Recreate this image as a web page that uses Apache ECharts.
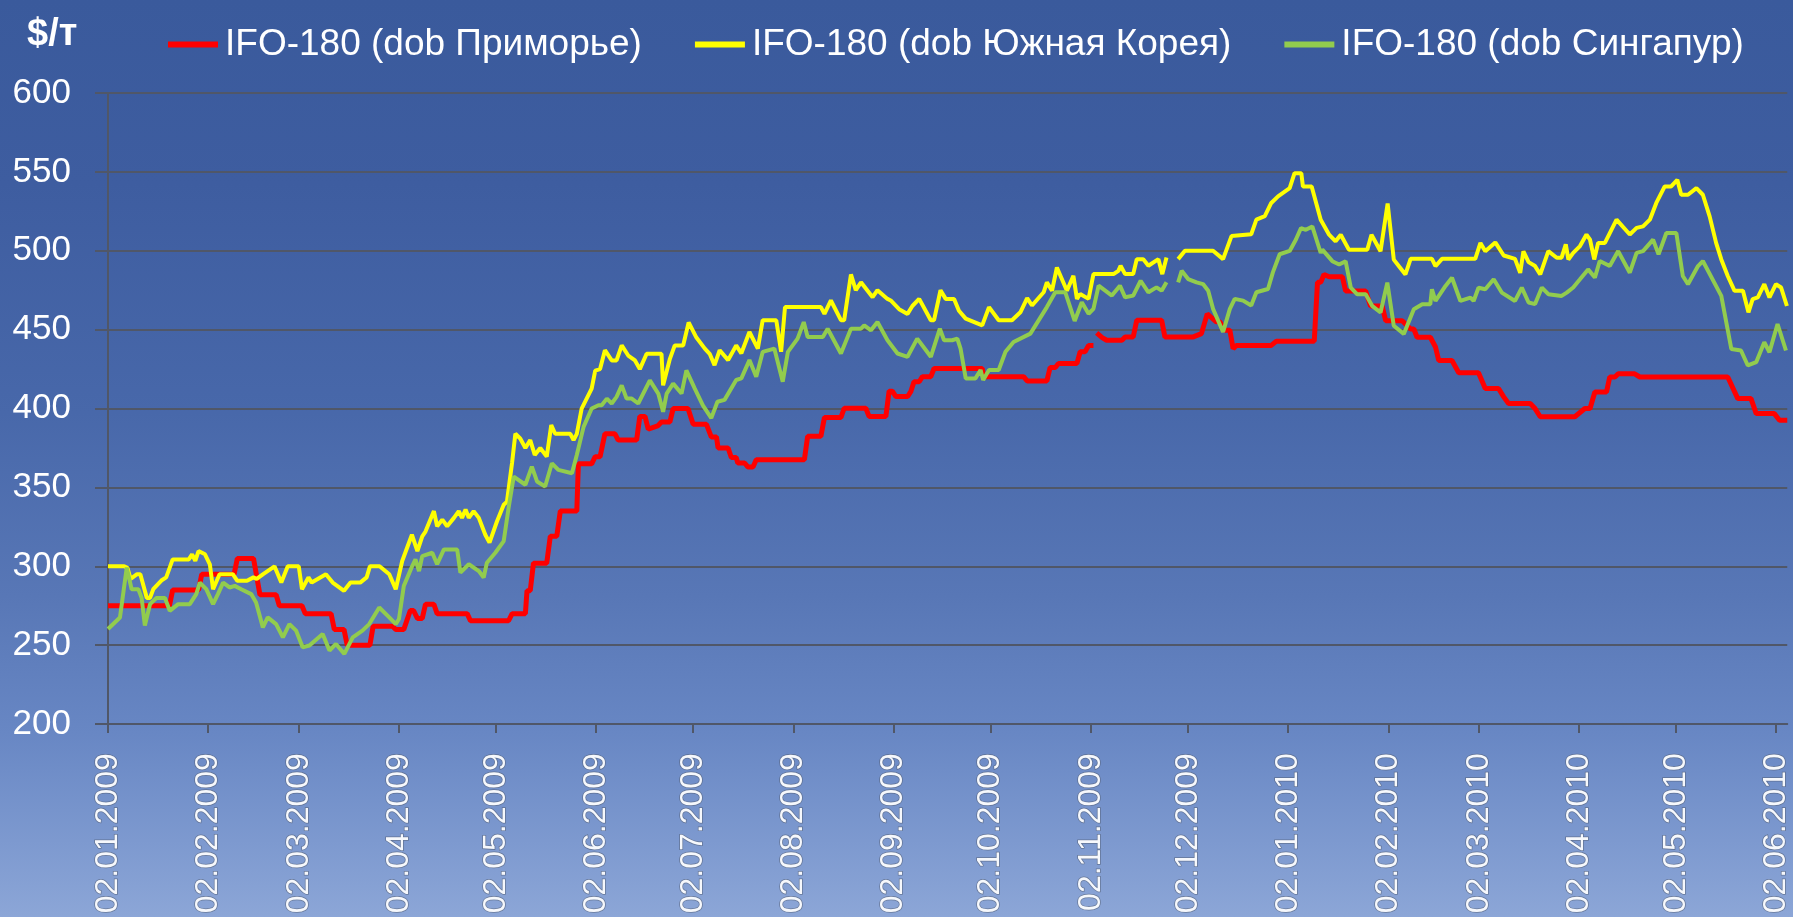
<!DOCTYPE html>
<html>
<head>
<meta charset="utf-8">
<script src="https://cdn.jsdelivr.net/npm/echarts@6/dist/echarts.min.js"></script>
<style>
html,body{margin:0;padding:0;}
#chart{width:1793px;height:917px;background:linear-gradient(to bottom,#3a5a9c 0%,#3e5da0 20%,#4868aa 45%,#5877b6 65%,#6887c4 80%,#8ca6d7 100%);}
</style>
</head>
<body>
<div id="chart"></div>
<script>
// x values are days counted from 02.01.2009
const monthDays = [0,31,59,90,120,151,181,212,243,273,304,334,365,396,424,455,485,516];
const monthLabels = ['02.01.2009','02.02.2009','02.03.2009','02.04.2009','02.05.2009','02.06.2009','02.07.2009','02.08.2009','02.09.2009','02.10.2009','02.11.2009','02.12.2009','02.01.2010','02.02.2010','02.03.2010','02.04.2010','02.05.2010','02.06.2010'];
const seriesNames = ['IFO-180 (dob Приморье)','IFO-180 (dob Южная Корея)','IFO-180 (dob Сингапур)'];

const primorye = [[0,275],[19,275],[20,285],[28,285],[29,295],[39,295],[40,305],[45,305],[47,282],[52,282],[53,275],[60,275],[61,270],[69,270],[70,260],[73,260],[74,250],[81,250],[82,262],[88,262],[89,260],[91.5,260],[93.5,272],[94.5,272],[95.7,267],[97.2,267],[98.2,276],[100.8,276],[101.8,270],[111.1,270],[112.1,265.5],[123.9,265.5],[125,270],[129.1,270],[129.6,284.5],[130.6,284.5],[131.6,302],[135.7,302],[136.8,319],[138.8,319],[139.9,335],[145,335],[145.5,365],[149.6,365],[150.7,369.5],[152.2,369.5],[153.7,384],[156.8,384],[157.8,380],[163.5,380],[164.5,395],[166.1,395],[167.1,387],[170,389],[171.2,391.5],[173.8,391.5],[174.8,400],[179.4,400],[181,390],[185.1,390],[186.6,382],[188.2,382],[188.7,375],[191.8,375],[192.8,369],[194.3,369],[194.8,365.5],[196.9,365.5],[197.9,363],[199.5,363],[200.5,367.6],[215.4,367.6],[216.4,382.4],[220.5,382.4],[221.6,394.3],[226.7,394.3],[227.7,400.2],[234.4,400.2],[235.4,395],[240.6,395],[241.6,411],[242.6,411],[243.7,407.6],[247.3,407.6],[248.3,410.7],[249.3,417],[250.9,417],[251.9,420.2],[254.5,420.2],[255.5,425.4],[270.4,425.4],[270.9,420.2],[283.2,420.2],[284.3,417.5],[290.4,417.5],[291.4,426],[293,426],[294,428.6],[299.7,428.6],[300.7,436],[302.2,436],[303.3,440],[304.8,440],[305.3,null],[305.8,448],[307.5,445],[308.9,443.3],[313.6,443.3],[314.6,445.4],[317.1,445.4],[318.2,456],[325.9,456],[326.9,445.4],[335.7,445.4],[338.2,447.5],[340,460],[342.8,455],[343.9,455],[345.4,449.6],[347,449.6],[348,438],[349,440],[359.8,440],[361.4,442.7],[373.1,442.7],[374.1,480],[375.1,480],[376.1,485],[377.7,483.5],[381.8,483.5],[382.8,474.5],[389,474.5],[390.5,465],[394.1,465],[395.2,455.7],[400.3,455.7],[402.9,450.4],[403.9,450.4],[404.9,445.2],[409,445.2],[410.6,439],[411.6,430.5],[415.7,430.5],[417.8,422.7],[423.9,422.7],[426,412.7],[430.1,412.7],[431.7,407.4],[433.2,403.2],[439.9,403.2],[441.4,400],[443,394.8],[453.7,394.8],[456.8,400],[458.4,400],[459.9,410.5],[463.5,410.5],[464.5,420],[466.1,420],[467.1,422],[472.2,422],[473.8,420],[501,420],[504.1,406.3],[508.2,406.3],[509.8,396.8],[515.4,396.8],[517,392.6],[519.4,392.6]];

const korea = [[0,300],[5,300],[6,299],[7,292],[9,295],[10,295],[12,280],[13,280],[14,285.5],[16.5,291],[18,293],[20,304.4],[25,304.4],[26,307.6],[27,303.4],[28,309.7],[30,307.6],[31.5,301.3],[32.5,285.5],[34.5,295],[38.6,295],[40,290.8],[43,290.8],[45,293],[46,292],[48,295],[51.5,300],[53.6,289.7],[55.6,300],[59,300],[60,285.5],[62,293],[63,289.7],[67.4,295],[69.5,289.7],[73,284.5],[75,289.7],[78,289.7],[80,293],[81,300],[84,300],[87,295],[89,285.5],[91,303.4],[94,320],[95.7,309.7],[97.2,319],[98.2,322],[100.8,335],[101.8,325.4],[103.4,329.6],[104.9,325.4],[107,330.7],[108.5,335],[109.5,330.7],[110.6,336],[111.6,330.7],[113.1,335],[114.7,330.7],[116.7,320],[118,315],[120.3,328.4],[122.4,339],[123.4,341],[125,366],[126,384],[127.5,381],[129.1,375],[130.6,380],[132,370.6],[133.7,375],[135.7,369.5],[137.1,389.5],[138.3,384],[143,384],[144,380],[145,384],[146.5,400],[149.6,412.6],[150.7,424],[152.2,425],[153.7,437],[155.8,430.5],[157.3,430.5],[158.9,440],[160.9,433.6],[163,430.5],[164.5,425],[166.6,434.7],[171.2,434.7],[171.7,414.7],[173.8,431.5],[175.3,440],[177.9,440],[179.6,454.6],[182,445],[184.6,438],[186.1,434.7],[187.6,427.5],[189.2,437],[191.8,430.7],[194.3,440],[195.9,435],[198.4,448.5],[201,438],[202.5,456],[206.7,456],[208.2,436],[209.4,464.3],[220.5,464.3],[221.6,460],[223.6,468.5],[226.7,456],[227.7,456],[229.8,485],[231.3,475],[232.9,480],[236.5,470.6],[238,475],[241.1,469.5],[242.1,468.5],[244.7,463],[247.3,460],[248.8,465],[250.9,469.5],[254.5,456],[255.5,456],[257.5,475],[259.1,469.5],[261.7,469.5],[263.2,462],[265.3,457],[270.4,452.7],[272.5,464.3],[275.5,456],[279.6,456],[282.2,461],[284.3,470],[285.8,465.3],[289.4,473.7],[290.4,480],[292,474.7],[293.5,489.4],[296.6,474.7],[298.6,484.2],[299.7,469.5],[300.7,472.6],[303.3,469.5],[304.8,485.2],[311,485.2],[312.5,487.3],[313.2,490.5],[314.6,485.2],[317.1,485.2],[318.2,494.7],[320.2,494.7],[321.8,490.5],[324.9,494.7],[326.1,485.2],[327.4,495.7],[329,null],[331,494.7],[333.1,500],[341.8,500],[344.9,494.7],[347.5,509.3],[353.6,510.4],[355.2,519.8],[357.8,522],[359.8,530.3],[361.9,534.5],[365.5,539.7],[367,549.2],[369.1,549.2],[369.6,540.8],[372.3,540.7],[375.1,519.6],[377.7,510.2],[379.7,506],[381.3,510.2],[383.8,500.7],[389.5,500.7],[390.8,510.2],[393.6,499.7],[395.8,530],[397.7,494.4],[399.3,490.2],[401.3,485],[402.9,494.9],[409.5,494.9],[410.6,490.2],[412.6,494.9],[422.9,494.9],[424.5,505],[426,499.7],[429.1,505.3],[431.7,497],[435.2,494.9],[436.8,486],[437.8,499.7],[439.4,492.8],[441.4,490.3],[443,485],[445.5,499.8],[448.1,495.6],[449.6,495.6],[450.9,504],[451.7,494.5],[453.2,498.7],[455.3,503],[457.3,510.3],[458.4,507],[459.7,494.5],[460.9,505],[463,505],[466.6,519.7],[470.7,510.3],[472.8,514.5],[474.8,515.5],[476.9,519.7],[478.9,530.3],[481.5,540.8],[483.5,540.8],[485.4,545],[486.6,535.5],[488.7,535.5],[491.3,539.7],[493.3,535.5],[495.4,521.8],[497.4,505],[499,494.5],[501,484],[503.1,474.6],[505.7,474.6],[507.4,461],[508.7,469.3],[510.3,470.4],[512.3,478.8],[513.9,470.4],[515.9,478.8],[517.5,476.7],[519.3,465]];

const singapore = [[0,260.3],[3.7,267.6],[5.8,299.2],[7.3,285.5],[9.4,285.5],[10.4,280],[11.4,262.4],[13,276],[15,280],[17.6,280],[19.1,271.8],[21.7,276],[25.3,276],[27.3,282.4],[28.4,289.7],[30.4,285.5],[32.5,276],[34,282.4],[35.6,289.7],[37.6,286.6],[39.2,287.6],[41.2,285.5],[44.3,282.4],[45.8,277.1],[47.9,261.3],[49.4,267.6],[52,263.4],[54.1,255],[56.1,263.4],[58.2,259.2],[60.2,248.7],[62.3,249.8],[66.4,257.1],[68.5,246.6],[70.5,250.8],[73.1,244.5],[75.7,255],[78.7,259.2],[80.8,263.4],[83.9,273.9],[87,267.6],[89,263.4],[90,266.6],[91.5,287.6],[94.1,300.2],[95.1,304.4],[96.2,297],[97.2,306.5],[100.3,308.6],[101.8,301.3],[103.9,310.7],[108,310.7],[109,296],[111.6,301.3],[114.7,297],[116.2,292.9],[117.2,302.3],[119.8,308.6],[122.4,316],[123.9,337],[125.5,356.9],[129.1,351.7],[131.1,363.2],[132.7,353.8],[135.2,350.6],[137.3,365.3],[139.3,361.1],[143.5,359],[145,370.6],[147.1,388.4],[149.6,400],[151.7,402.1],[152.7,402.1],[154.3,406.3],[155.8,403.2],[157.3,407.4],[158.9,414.7],[160.4,406.3],[162,406.3],[164,403.2],[167.6,417.9],[170.2,409.5],[171.7,397.9],[172.8,409.5],[174.8,415.8],[177.4,409.5],[178.9,424.2],[181.5,412.6],[184,402],[186.6,393.9],[188.5,404.3],[190.7,405.5],[194.3,418.1],[195.9,419.1],[198.4,430.7],[200.5,420.2],[202.5,435.9],[206.1,438],[208.7,417],[210.3,435.9],[213.3,444.3],[215.2,454.8],[216.4,445.4],[221.1,445.4],[222.6,450.6],[226.7,434.9],[229.8,450.6],[232.9,450.6],[233.9,452.7],[236,449.6],[238,454.8],[241.1,443.3],[244.2,434.9],[247.3,432.8],[250.3,444.3],[254.5,432.8],[257.3,450.6],[258.6,443.3],[261.1,443.3],[262.7,444.3],[263.7,438],[265.3,419.1],[268.3,419.1],[269.9,424.4],[270.7,418.1],[272.5,424.4],[275.5,424.4],[277.6,436],[280.1,442.2],[285.3,447.5],[290.4,464.3],[293,473.7],[296.1,473.7],[299,455.5],[301.2,467.4],[303.3,460.1],[304.8,463.2],[306.4,477.9],[310.5,471.6],[313,477.9],[314.6,470.5],[317.1,471.6],[319.4,481],[321.8,473.7],[324.3,476.8],[325.9,474.7],[327.4,480],[329,null],[331,480],[332.1,487.3],[334.1,482.1],[336.7,480],[338.7,478.9],[340.3,474.7],[341.8,463.2],[344.9,448.5],[347,463.2],[348.5,469.5],[351.1,468.4],[353.6,465.3],[355.2,473.7],[358.8,475.8],[360.3,486.3],[362.4,497.8],[365.5,499.9],[367.4,507],[369,514.4],[370.5,513.3],[372.5,515.4],[375.1,498.6],[375.6,500.7],[378.7,493.4],[380.8,491.3],[382.8,493.4],[384.4,476.6],[386.4,472.4],[389,472.4],[391,465.1],[393.6,460.9],[395.7,479.8],[397.7,452.5],[400.8,447.3],[403.9,463],[406.5,466.1],[409,466.1],[409.5,475.6],[410.6,468.2],[413.7,477.7],[415.7,482.9],[418.3,468.2],[421.4,470.3],[422.4,468.2],[423.9,476.6],[426,475.6],[428.6,481.9],[431.1,473.5],[435.2,468.2],[437.3,476.6],[439.4,467.2],[441.4,466.2],[443.5,476.7],[445.5,472.5],[449.6,471.4],[451.2,473.5],[453.2,476.7],[455.3,481.9],[457.8,488.2],[459.9,483],[461.4,493.5],[464.5,490.3],[467.1,499.8],[470.7,486.1],[472.8,498.7],[474.8,499.8],[477.9,507.1],[479.6,497.7],[482,511.3],[485.1,511.3],[487.1,484],[488.7,478.8],[491.8,490.3],[493.3,493.5],[499,471.4],[502.1,437.8],[505.1,436.8],[507.2,427.3],[509.8,429.4],[512.3,442],[513.9,435.7],[516.4,453.6],[519,436.8]];

const chart = echarts.init(document.getElementById('chart'), null, {renderer:'canvas'});
const axisGray = '#505768';
const font = 'Liberation Sans, Arial, sans-serif';
chart.setOption({
  backgroundColor: 'transparent',
  animation: false,
  title: {text:'$/т', left:22, top:11, textStyle:{color:'#ffffff', fontSize:38, fontWeight:'bold', fontFamily:font}},
  legend: {
    left:168, top:26, padding:0, itemWidth:50, itemHeight:6, itemGap:53, icon:'rect',
    textStyle:{color:'#ffffff', fontSize:37, fontFamily:font, padding:[0,0,0,2]},
    data: seriesNames
  },
  grid: {left:108, top:93, right:0, bottom:189, containLabel:false},
  xAxis: {
    type:'value', min:0, max:519.4,
    axisLine:{show:true, lineStyle:{color:axisGray, width:2}},
    axisTick:{show:true, customValues:monthDays, length:9, lineStyle:{color:axisGray, width:2}},
    axisLabel:{
      customValues:monthDays, rotate:90, margin:29,
      color:'#f6f8fc', fontSize:32, fontFamily:font,
      textBorderColor:'rgba(80,90,110,0.6)', textBorderWidth:1.5,
      formatter: v => monthLabels[monthDays.indexOf(v)]
    },
    splitLine:{show:false}
  },
  yAxis: {
    type:'value', min:200, max:600, interval:50,
    axisLine:{show:true, lineStyle:{color:axisGray, width:2}},
    axisTick:{show:true, length:13, lineStyle:{color:axisGray, width:2}},
    axisLabel:{color:'#ffffff', fontSize:35, fontFamily:font, margin:37},
    splitLine:{show:true, lineStyle:{color:axisGray, width:2}}
  },
  series: [
    {name:seriesNames[0], type:'line', data:primorye, showSymbol:false, connectNulls:false, color:'#ff0000', lineStyle:{width:5, color:'#ff0000'}, emphasis:{disabled:true}},
    {name:seriesNames[1], type:'line', data:korea, showSymbol:false, connectNulls:false, color:'#ffff00', lineStyle:{width:4, color:'#ffff00'}, emphasis:{disabled:true}},
    {name:seriesNames[2], type:'line', data:singapore, showSymbol:false, connectNulls:false, color:'#92cc4e', lineStyle:{width:4, color:'#92cc4e'}, emphasis:{disabled:true}}
  ]
});
</script>
</body>
</html>
